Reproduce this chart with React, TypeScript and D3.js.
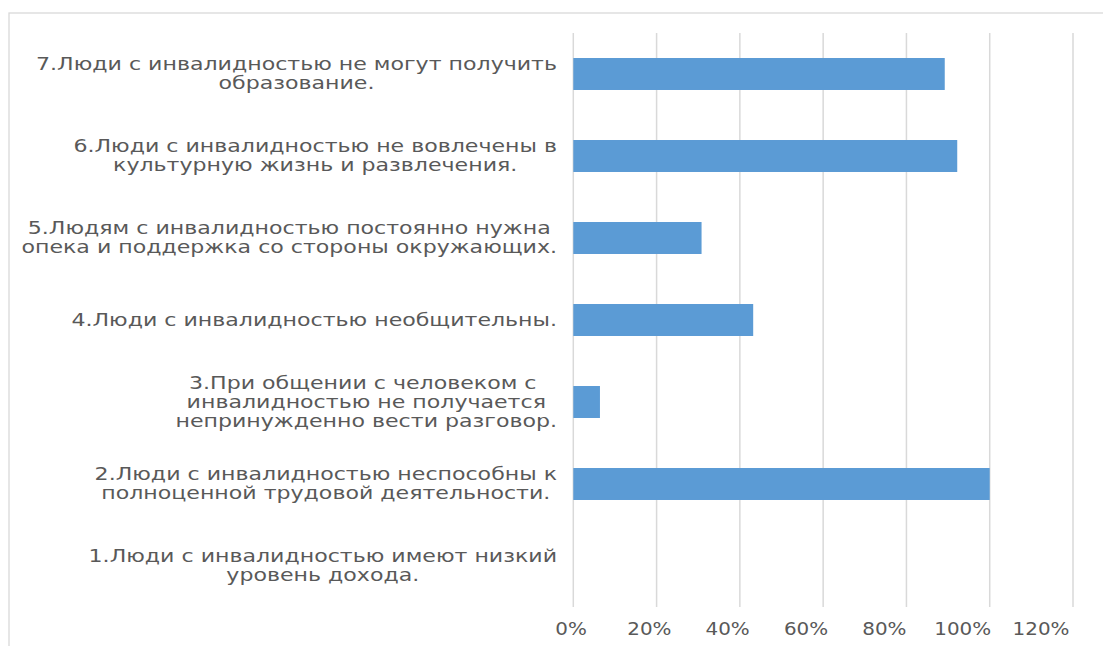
import React, { useEffect, useRef } from "react";
import * as d3 from "d3";

const categories: string[][] = [
  ["7.Люди с инвалидностью не могут получить", "образование."],
  ["6.Люди с инвалидностью не вовлечены в", "культурную жизнь и развлечения."],
  ["5.Людям с инвалидностью постоянно нужна", "опека и поддержка со стороны окружающих."],
  ["4.Люди с инвалидностью необщительны."],
  ["3.При общении с человеком с ", "инвалидностью не получается", "непринужденно вести разговор."],
  ["2.Люди с инвалидностью неспособны к", "полноценной трудовой деятельности."],
  ["1.Люди с инвалидностью имеют низкий", "уровень дохода."],
];
const values: number[] = [0.892, 0.922, 0.308, 0.432, 0.064, 1.0, 0];
const xTicks: number[] = [0, 0.2, 0.4, 0.6, 0.8, 1.0, 1.2];

const W = 1103;
const H = 646;
const SX = 1.3;
const SX_TICK = 1.17;
const FONT = "'DejaVu Sans', Verdana, sans-serif";
const TEXT = "#595959";

export default function App() {
  const ref = useRef<SVGSVGElement>(null);
  useEffect(() => {
    const svg = d3.select(ref.current);
    svg.selectAll("*").remove();
    const x = d3.scaleLinear().domain([0, 1.2]).range([573.3, 1073]);
    // tick labels in the reference sit on a slightly narrower spacing than the gridlines
    const xLabel = d3.scaleLinear().domain([0, 1.2]).range([571, 1041]);
    const ids = categories.map((_, i) => String(i));
    const y = d3.scaleBand<string>().domain(ids).range([33, 607]).paddingInner(0.61).paddingOuter(0.305);

    svg.append("rect").attr("x", 9).attr("y", 13).attr("width", 1200).attr("height", 700)
      .attr("fill", "white").attr("stroke", "#d9d9d9").attr("stroke-width", 1.3);

    svg.append("g").selectAll("line").data(xTicks).join("line")
      .attr("x1", (d) => x(d)).attr("x2", (d) => x(d))
      .attr("y1", 33).attr("y2", 607)
      .attr("stroke", "#d9d9d9").attr("stroke-width", 1.5);

    svg.append("g").selectAll("rect").data(values).join("rect")
      .attr("x", x(0))
      .attr("y", (_, i) => y(String(i))!)
      .attr("width", (d) => x(d) - x(0))
      .attr("height", y.bandwidth())
      .attr("fill", "#5b9bd5");

    svg.append("g").selectAll("g").data(xTicks).join("g")
      .attr("transform", (d) => `translate(${xLabel(d)},635) scale(${SX_TICK},1)`)
      .append("text")
      .attr("text-anchor", "middle")
      .attr("font-family", FONT).attr("font-size", 17).attr("fill", TEXT)
      .text((d) => `${Math.round(d * 100)}%`);

    const lh = 19;
    categories.forEach((lines, i) => {
      const cy = y(String(i))! + y.bandwidth() / 2;
      const g = svg.append("g").attr("transform", `translate(557,0) scale(${SX},1)`);
      const first = cy - ((lines.length - 1) * lh) / 2 + 6;
      const ts = lines.map((ln, j) =>
        g.append("text")
          .attr("y", first + j * lh)
          .attr("text-anchor", "middle")
          .attr("font-family", FONT).attr("font-size", 17).attr("fill", TEXT)
          .attr("xml:space", "preserve")
          .style("white-space", "pre")
          .text(ln)
      );
      const maxW = d3.max(ts, (t) => (t.node() as SVGTextElement).getComputedTextLength()) || 0;
      ts.forEach((t) => t.attr("x", -maxW / 2));
    });
  }, []);
  return (
    <svg ref={ref} width={W} height={H}
      style={{ position: "absolute", left: 0, top: 0, background: "white", display: "block" }} />
  );
}
